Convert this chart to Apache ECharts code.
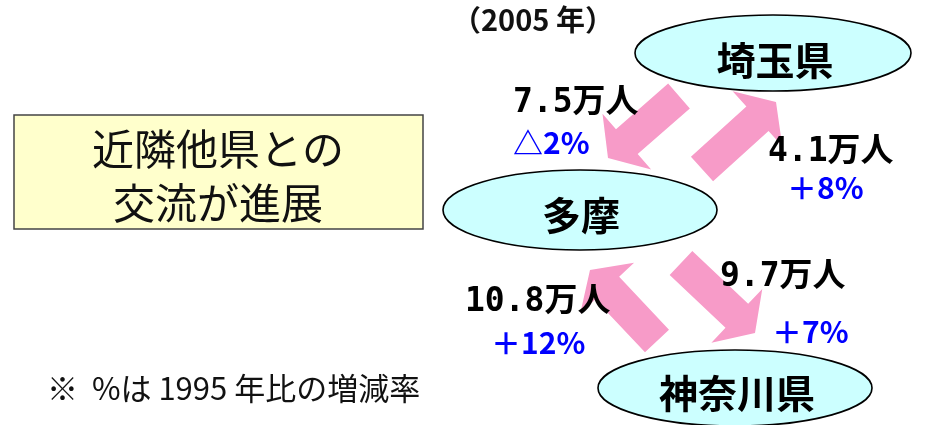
<!DOCTYPE html>
<html>
<head>
<meta charset="utf-8">
<style>
  html, body { margin: 0; padding: 0; background: #fff; }
  #main { width: 929px; height: 425px; }
</style>
<script src="https://cdn.jsdelivr.net/npm/echarts@6/dist/echarts.min.js"></script>
</head>
<body>
<div id="main"></div>
<script>
// --- data ---
const regions = ['埼玉県', '多摩', '神奈川県'];
const flowFrom = ['埼玉県', '多摩', '神奈川県', '多摩'];
const flowTo = ['多摩', '埼玉県', '多摩', '神奈川県'];
const flowValues = [7.5, 4.1, 10.8, 9.7];   // 万人 (2005)
const changeRates = [-2, 8, 12, 7];          // % vs 1995
const yearLabel = '（2005 年）';
const titleLines = ['近隣他県との', '交流が進展'];
const footnote = '※  %は 1995 年比の増減率';

// --- layout (pixel space of the hidden axes) ---
const regionLayout = {
  '埼玉県': { cx: 773, cy: 53, rx: 138, ry: 38, tx: 775, ty: 60 },
  '多摩': { cx: 580, cy: 210, rx: 137, ry: 40, tx: 581, ty: 215 },
  '神奈川県': { cx: 735, cy: 388, rx: 137, ry: 38, tx: 737, ty: 393 }
};
const arrowLayout = [
  { tail: [679, 96], tip: [608, 158], vx: 513, vy: 103, rx: 513, ry: 143 },
  { tail: [702, 169], tip: [776, 102], vx: 768, vy: 152, rx: 787, ry: 188 },
  { tail: [657, 341], tip: [590, 270], vx: 465, vy: 302, rx: 491, ry: 343 },
  { tail: [681, 263], tip: [755, 333], vx: 720, vy: 277, rx: 772, ry: 332 }
];
const SHAFT_W = 33, HEAD_W = 74, HEAD_L = 25;
const PINK = '#F79BC8';
const CYAN = '#CCFFFF';
const CJK = '"Noto Sans CJK JP", sans-serif';
const NUM = '"DejaVu Sans Mono", "Noto Sans CJK JP", sans-serif';

function fmtRate(r) {
  return (r < 0 ? '△' + Math.abs(r) : '＋' + r) + '%';
}

function arrowPoints(t, p) {
  const dx = p[0] - t[0], dy = p[1] - t[1];
  const len = Math.sqrt(dx * dx + dy * dy);
  const ux = dx / len, uy = dy / len;
  const nx = -uy, ny = ux;
  const bx = p[0] - ux * HEAD_L, by = p[1] - uy * HEAD_L;
  const s = SHAFT_W / 2, h = HEAD_W / 2;
  return [
    [t[0] + nx * s, t[1] + ny * s],
    [bx + nx * s, by + ny * s],
    [bx + nx * h, by + ny * h],
    [p[0], p[1]],
    [bx - nx * h, by - ny * h],
    [bx - nx * s, by - ny * s],
    [t[0] - nx * s, t[1] - ny * s]
  ];
}

const chart = echarts.init(document.getElementById('main'));

const option = {
  animation: false,
  grid: { left: 0, right: 0, top: 0, bottom: 0 },
  xAxis: { type: 'value', min: 0, max: 929, show: false },
  yAxis: { type: 'value', min: 0, max: 425, inverse: true, show: false },
  graphic: [
    {
      type: 'rect',
      shape: { x: 14, y: 115, width: 409, height: 114 },
      style: { fill: '#FFFFCC', stroke: '#444', lineWidth: 1.5 }
    },
    {
      type: 'text', x: 218, y: 149,
      style: { text: titleLines[0], font: 'normal 42px ' + CJK, fill: '#111', align: 'center', verticalAlign: 'middle' }
    },
    {
      type: 'text', x: 218, y: 203,
      style: { text: titleLines[1], font: 'normal 42px ' + CJK, fill: '#111', align: 'center', verticalAlign: 'middle' }
    },
    {
      type: 'text', x: 452, y: 20,
      style: { text: yearLabel, font: 'bold 29px ' + CJK, fill: '#111', align: 'left', verticalAlign: 'middle' }
    },
    {
      type: 'text', x: 47, y: 388,
      style: { text: footnote, font: 'normal 31px ' + CJK, fill: '#111', align: 'left', verticalAlign: 'middle' }
    }
  ],
  series: [
    {
      type: 'custom',
      name: 'flows',
      data: flowValues.map((v, i) => [i, v, changeRates[i]]),
      renderItem: function (params, api) {
        const i = api.value(0);
        const L = arrowLayout[i];
        const pts = arrowPoints(api.coord(L.tail), api.coord(L.tip));
        const vp = api.coord([L.vx, L.vy]);
        const rp = api.coord([L.rx, L.ry]);
        return {
          type: 'group',
          children: [
            { type: 'polygon', shape: { points: pts }, style: { fill: PINK } },
            {
              type: 'text', x: vp[0], y: vp[1],
              style: { text: api.value(1) + '万人', font: 'bold 33px ' + NUM, fill: '#000', align: 'left', verticalAlign: 'middle' }
            },
            {
              type: 'text', x: rp[0], y: rp[1],
              style: { text: fmtRate(api.value(2)), font: 'bold 30px ' + CJK, fill: '#0000FF', align: 'left', verticalAlign: 'middle' }
            }
          ]
        };
      }
    },
    {
      type: 'custom',
      name: 'regions',
      data: regions.map((r, i) => [i]),
      renderItem: function (params, api) {
        const L = regionLayout[regions[api.value(0)]];
        const c = api.coord([L.cx, L.cy]);
        const t = api.coord([L.tx, L.ty]);
        return {
          type: 'group',
          children: [
            {
              type: 'ellipse',
              shape: { cx: c[0], cy: c[1], rx: L.rx, ry: L.ry },
              style: { fill: CYAN, stroke: '#000', lineWidth: 1.6 }
            },
            {
              type: 'text', x: t[0], y: t[1],
              style: { text: regions[api.value(0)], font: 'bold 39px ' + CJK, fill: '#000', align: 'center', verticalAlign: 'middle' }
            }
          ]
        };
      }
    }
  ]
};

chart.setOption(option);
</script>
</body>
</html>
